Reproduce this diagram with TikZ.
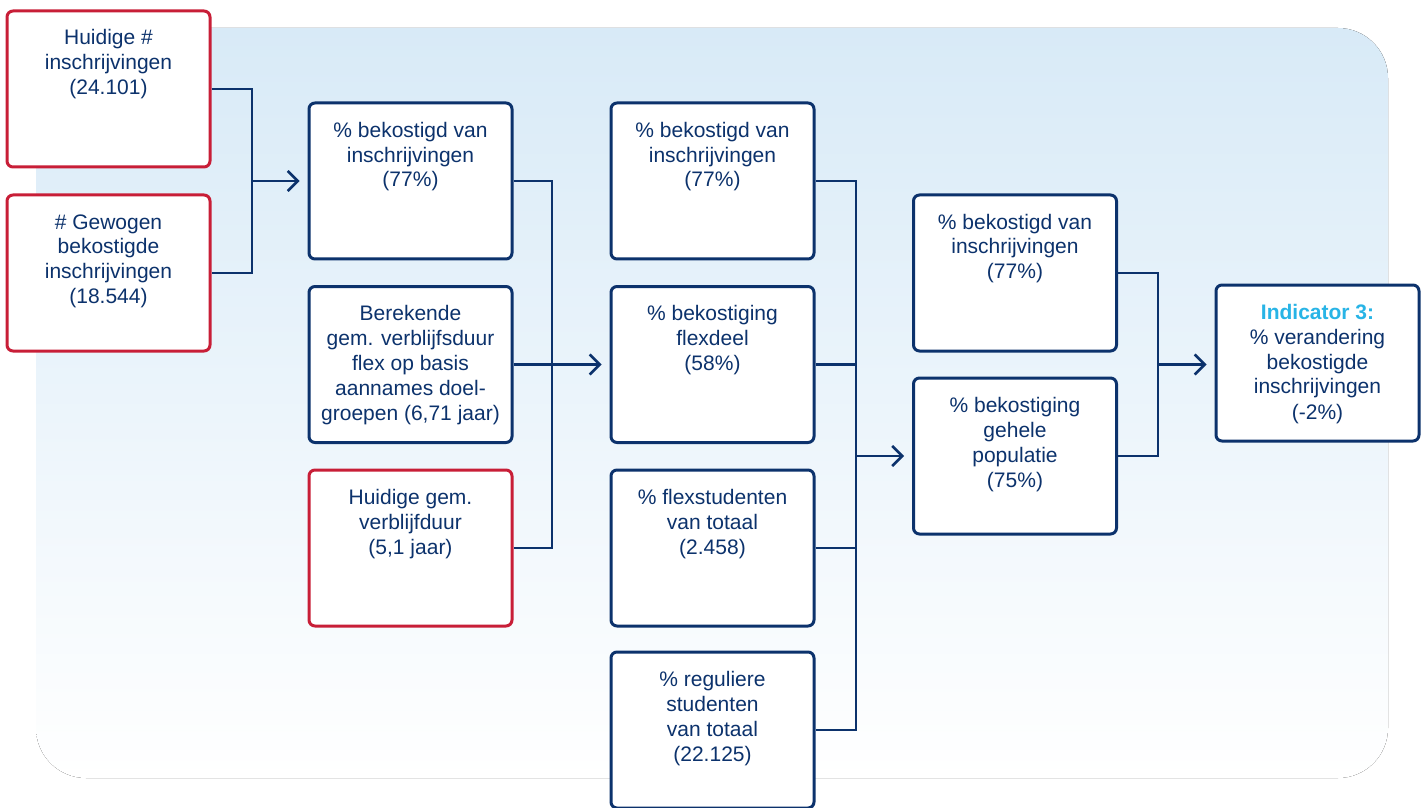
\documentclass[tikz,border=0pt]{standalone}
\usepackage{fontspec}
\setmainfont{Liberation Sans}
\usetikzlibrary{arrows.meta}
\definecolor{navy}{RGB}{12,50,108}
\definecolor{rood}{RGB}{200,30,55}
\definecolor{cyaan}{RGB}{40,180,230}
\definecolor{achter}{RGB}{216,234,247}
%% text starts at the top of each box
\newcommand{\boxtext}[1]{\parbox[c][78pt][t]{100pt}{\fontsize{10.5}{12.5}\selectfont\centering\rule{0pt}{17pt}#1}}

\begin{document}
\begin{tikzpicture}[x=0.5pt, y=-0.5pt,
    stap/.style={draw=navy, line width=1.5pt, rounded corners=3pt, fill=white,
                 minimum width=101.5pt, minimum height=78pt, inner sep=0pt, text=navy},
    bron/.style={stap, draw=rood},
    lijn/.style={draw=navy, line width=1.25pt},
    pijl/.style={lijn, -{Straight Barb[length=5pt,width=10pt]}, shorten >=4pt},
    ]
    \useasboundingbox (0,0) rectangle (1426,808);
    %% background panel
    \fill[top color=achter, bottom color=white, rounded corners=25pt] (36,28) rectangle (1388,778);

    %% column 1: sources
    \node[bron] (huidig) at (108.5,89)  {\boxtext{Huidige \#\\ inschrijvingen\\ (24.101)}};
    \node[bron] (gewogen) at (108.5,273) {\boxtext{\# Gewogen\\ bekostigde\\ inschrijvingen\\ (18.544)}};

    %% column 2
    \node[stap] (bekost1) at (410.5,181) {\boxtext{\% bekostigd van\\ inschrijvingen\\ (77\%)}};
    \node[stap] (berekend) at (410.5,364.5) {\boxtext{Berekende\\ gem. verblijfsduur\\ flex op basis\\ aannames doel-\\ groepen (6,71 jaar)}};
    \node[bron] (verblijf) at (410.5,548) {\boxtext{Huidige gem.\\ verblijfduur\\ (5,1 jaar)}};

    %% column 3
    \node[stap] (bekost2) at (712.5,181) {\boxtext{\% bekostigd van\\ inschrijvingen\\ (77\%)}};
    \node[stap] (flexdeel) at (712.5,364.5) {\boxtext{\% bekostiging\\ flexdeel\\ (58\%)}};
    \node[stap] (flexstud) at (712.5,548) {\boxtext{\% flexstudenten\\ van totaal\\ (2.458)}};
    \node[stap] (regulier) at (712.5,730) {\boxtext{\% reguliere\\ studenten\\ van totaal\\ (22.125)}};

    %% column 4
    \node[stap] (bekost3) at (1015,273) {\boxtext{\% bekostigd van\\ inschrijvingen\\ (77\%)}};
    \node[stap] (gehele) at (1015,456) {\boxtext{\% bekostiging\\ gehele\\ populatie\\ (75\%)}};

    %% result
    \node[stap] (indicator) at (1317.5,363) {\boxtext{{\bfseries\color{cyaan}Indicator 3:}\\ \% verandering\\ bekostigde\\ inschrijvingen\\ (-2\%)}};

    %% connectors
    \coordinate (j1) at (252,181);
    \coordinate (j2) at (552,364.5);
    \coordinate (j3) at (856,456);
    \coordinate (j4) at (1158,364.5);

    \draw[lijn] (huidig.east) -| (j1) |- (gewogen.east);
    \draw[pijl] (j1) -- (bekost1.west);

    \draw[lijn] (bekost1.east) -| (j2) |- (verblijf.east);
    \draw[pijl] (berekend.east) -- (flexdeel.west);

    \draw[lijn] (bekost2.east) -| (j3) |- (regulier.east);
    \draw[lijn] (flexdeel.east) -- (flexdeel.east -| j3);
    \draw[lijn] (flexstud.east) -- (flexstud.east -| j3);
    \draw[pijl] (j3) -- (gehele.west);

    \draw[lijn] (bekost3.east) -| (j4) |- (gehele.east);
    \draw[pijl] (j4) -- (j4 -| indicator.west);
\end{tikzpicture}
\end{document}
